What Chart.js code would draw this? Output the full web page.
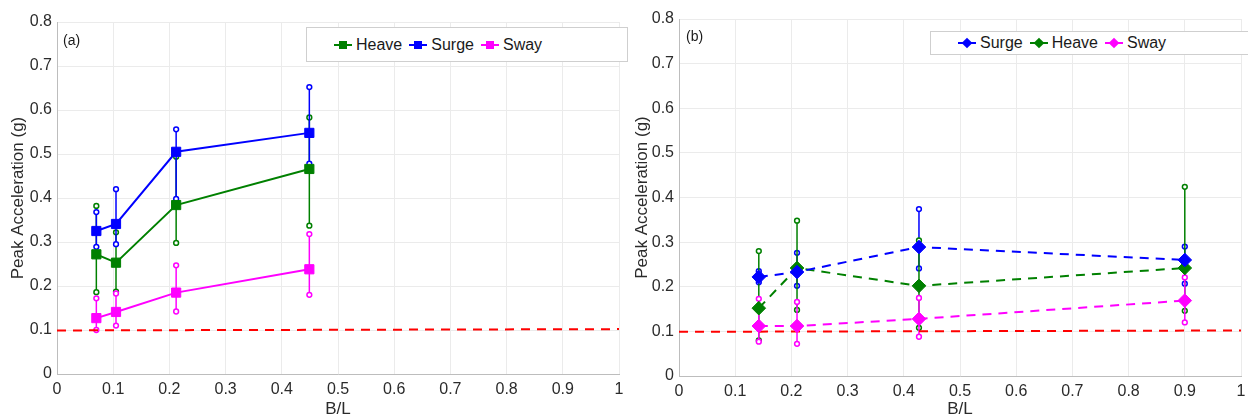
<!DOCTYPE html>
<html>
<head>
<meta charset="utf-8">
<script src="https://cdn.jsdelivr.net/npm/chart.js@4.4.1/dist/chart.umd.min.js"></script>
<style>
  body { margin: 0; width: 1248px; height: 420px; overflow: hidden; background: #fff; position: relative;
         font-family: "Liberation Sans", Arial, sans-serif; color: #1a1a1a; }
  .panel { position: absolute; top: 0; width: 624px; height: 420px; }
  .tag { position: absolute; font-size: 14px; }
  .legend { position: absolute; border: 1px solid #cfcfcf; background: #fff; display: flex; align-items: center;
            font-size: 16px; box-sizing: border-box; }
  .item { display: flex; align-items: center; margin-right: 7px; }
  .sym { position: relative; width: 18px; height: 12px; margin-right: 4px; }
  .sym .ln { position: absolute; left: 0; right: 0; top: 5px; height: 2px; }
  .sym .mk { position: absolute; left: 5px; top: 2px; width: 8px; height: 8px; }
  .sym .mk.dia { transform: rotate(45deg) scale(0.95, 0.95); left: 5px; top: 2px; width: 8px; height: 8px; }
</style>
</head>
<body>
<div class="panel" style="left:0"><canvas id="chartA" width="624" height="420"></canvas></div>
<div class="panel" style="left:624px"><canvas id="chartB" width="624" height="420"></canvas></div>
<div class="tag" style="left:63px;top:32px">(a)</div>
<div class="tag" style="left:686px;top:28px">(b)</div>
<div class="legend" id="legendA" style="left:306px;top:27px;width:322px;height:35px;padding-left:27px"></div>
<div class="legend" id="legendB" style="left:930px;top:31px;width:330px;height:24px;padding-left:27px"></div>
<script>
// panel (a)
const blA = [0.07, 0.105, 0.212, 0.449];
const heaveA = [0.272, 0.253, 0.384, 0.466];
const heaveALo = [0.186, 0.187, 0.298, 0.337];
const heaveAHi = [0.382, 0.322, 0.494, 0.583];
const surgeA = [0.325, 0.341, 0.505, 0.548];
const surgeALo = [0.289, 0.295, 0.398, 0.478];
const surgeAHi = [0.368, 0.42, 0.556, 0.652];
const swayA = [0.127, 0.141, 0.185, 0.238];
const swayALo = [0.10, 0.11, 0.142, 0.18];
const swayAHi = [0.172, 0.183, 0.247, 0.318];

// panel (b)
const blB = [0.142, 0.21, 0.427, 0.9];
const surgeB = [0.222, 0.233, 0.289, 0.26];
const surgeBLo = [0.21, 0.202, 0.241, 0.207];
const surgeBHi = [0.235, 0.276, 0.374, 0.29];
const heaveB = [0.152, 0.242, 0.202, 0.242];
const heaveBLo = [0.08, 0.148, 0.108, 0.146];
const heaveBHi = [0.28, 0.348, 0.304, 0.424];
const swayB = [0.112, 0.112, 0.128, 0.169];
const swayBLo = [0.077, 0.072, 0.088, 0.12];
const swayBHi = [0.173, 0.166, 0.175, 0.221];

// 0.1 g threshold
const limitX = [0, 1];
const limitY = [0.099, 0.102];

const xTicks = [0, 0.1, 0.2, 0.3, 0.4, 0.5, 0.6, 0.7, 0.8, 0.9, 1];
const yTicks = [0, 0.1, 0.2, 0.3, 0.4, 0.5, 0.6, 0.7, 0.8];

const GREEN = '#008000', BLUE = '#0000ff', MAGENTA = '#ff00ff', RED = '#ff0000';
const FONT = '"Liberation Sans", Arial, sans-serif';

const pts = (xs, ys) => xs.map((x, i) => ({ x, y: ys[i] }));

const errorBars = {
  id: 'errorBars',
  beforeDatasetsDraw(chart) {
    const { ctx, scales: { x, y } } = chart;
    chart.data.datasets.forEach(ds => {
      if (!ds.errLo) return;
      ctx.save();
      ctx.strokeStyle = ds.borderColor;
      ctx.lineWidth = 1.5;
      ds.data.forEach((p, j) => {
        const px = x.getPixelForValue(p.x);
        const lo = y.getPixelForValue(ds.errLo[j]);
        const hi = y.getPixelForValue(ds.errHi[j]);
        ctx.beginPath();
        ctx.moveTo(px, lo);
        ctx.lineTo(px, hi);
        ctx.stroke();
        [lo, hi].forEach(py => {
          ctx.beginPath();
          ctx.arc(px, py, 2.4, 0, Math.PI * 2);
          ctx.fillStyle = '#fff';
          ctx.fill();
          ctx.stroke();
        });
      });
      ctx.restore();
    });
  }
};

function series(label, xs, ys, lo, hi, color, style, dashed) {
  return {
    label,
    data: pts(xs, ys),
    errLo: lo,
    errHi: hi,
    borderColor: color,
    backgroundColor: color,
    borderWidth: 2,
    borderDash: dashed ? [9, 7] : [],
    pointStyle: style,
    pointRadius: style === 'rect' ? 6.5 : 6.8,
    pointBorderWidth: 1,
    tension: 0
  };
}

function makeChart(id, datasets, pad, yWidth, xHeight) {
  return new Chart(document.getElementById(id), {
    type: 'line',
    data: {
      datasets: [
        ...datasets,
        {
          label: 'limit',
          data: pts(limitX, limitY),
          borderColor: RED,
          borderWidth: 2,
          borderDash: [9, 7],
          pointRadius: 0
        }
      ]
    },
    options: {
      responsive: false,
      animation: false,
      devicePixelRatio: 1,
      layout: { padding: pad, autoPadding: false },
      plugins: { legend: { display: false }, tooltip: { enabled: false } },
      scales: {
        x: {
          type: 'linear',
          min: 0,
          max: 1,
          afterBuildTicks: s => { s.ticks = xTicks.map(v => ({ value: v })); },
          afterFit: s => { s.height = xHeight; s.paddingLeft = 0; s.paddingRight = 0; },
          grid: { color: '#ebebeb', drawTicks: false },
          border: { color: '#bdbdbd' },
          ticks: { color: '#2b2b2b', padding: 6, font: { family: FONT, size: 16 }, maxRotation: 0,
                   callback: v => String(v) },
          title: { display: true, text: 'B/L', color: '#2b2b2b', padding: { top: 0, bottom: 0 },
                   font: { family: FONT, size: 17 } }
        },
        y: {
          min: 0,
          max: 0.8,
          afterBuildTicks: s => { s.ticks = yTicks.map(v => ({ value: v })); },
          afterFit: s => { s.width = yWidth; s.paddingTop = 0; s.paddingBottom = 0; },
          grid: { color: '#ebebeb', drawTicks: false },
          border: { color: '#bdbdbd' },
          ticks: { color: '#2b2b2b', padding: 5, font: { family: FONT, size: 16 },
                   callback: v => String(v) },
          title: { display: true, text: 'Peak Acceleration (g)', color: '#2b2b2b',
                   padding: { top: 8, bottom: 0 }, font: { family: FONT, size: 17 } }
        }
      }
    },
    plugins: [errorBars]
  });
}

makeChart('chartA', [
  series('Heave', blA, heaveA, heaveALo, heaveAHi, GREEN, 'rect', false),
  series('Surge', blA, surgeA, surgeALo, surgeAHi, BLUE, 'rect', false),
  series('Sway', blA, swayA, swayALo, swayAHi, MAGENTA, 'rect', false)
], { top: 22, right: 5, left: 0, bottom: 0 }, 57, 46);

makeChart('chartB', [
  series('Surge', blB, surgeB, surgeBLo, surgeBHi, BLUE, 'rectRot', true),
  series('Heave', blB, heaveB, heaveBLo, heaveBHi, GREEN, 'rectRot', true),
  series('Sway', blB, swayB, swayBLo, swayBHi, MAGENTA, 'rectRot', true)
], { top: 19, right: 7, left: 0, bottom: 0 }, 55, 44);

function legend(id, items, shape) {
  const box = document.getElementById(id);
  items.forEach(([name, color]) => {
    const it = document.createElement('div');
    it.className = 'item';
    it.innerHTML = '<span class="sym"><span class="ln" style="background:' + color + '"></span>' +
      '<span class="mk ' + shape + '" style="background:' + color + '"></span></span><span>' + name + '</span>';
    box.appendChild(it);
  });
}
legend('legendA', [['Heave', GREEN], ['Surge', BLUE], ['Sway', MAGENTA]], 'sq');
legend('legendB', [['Surge', BLUE], ['Heave', GREEN], ['Sway', MAGENTA]], 'dia');
</script>
</body>
</html>
